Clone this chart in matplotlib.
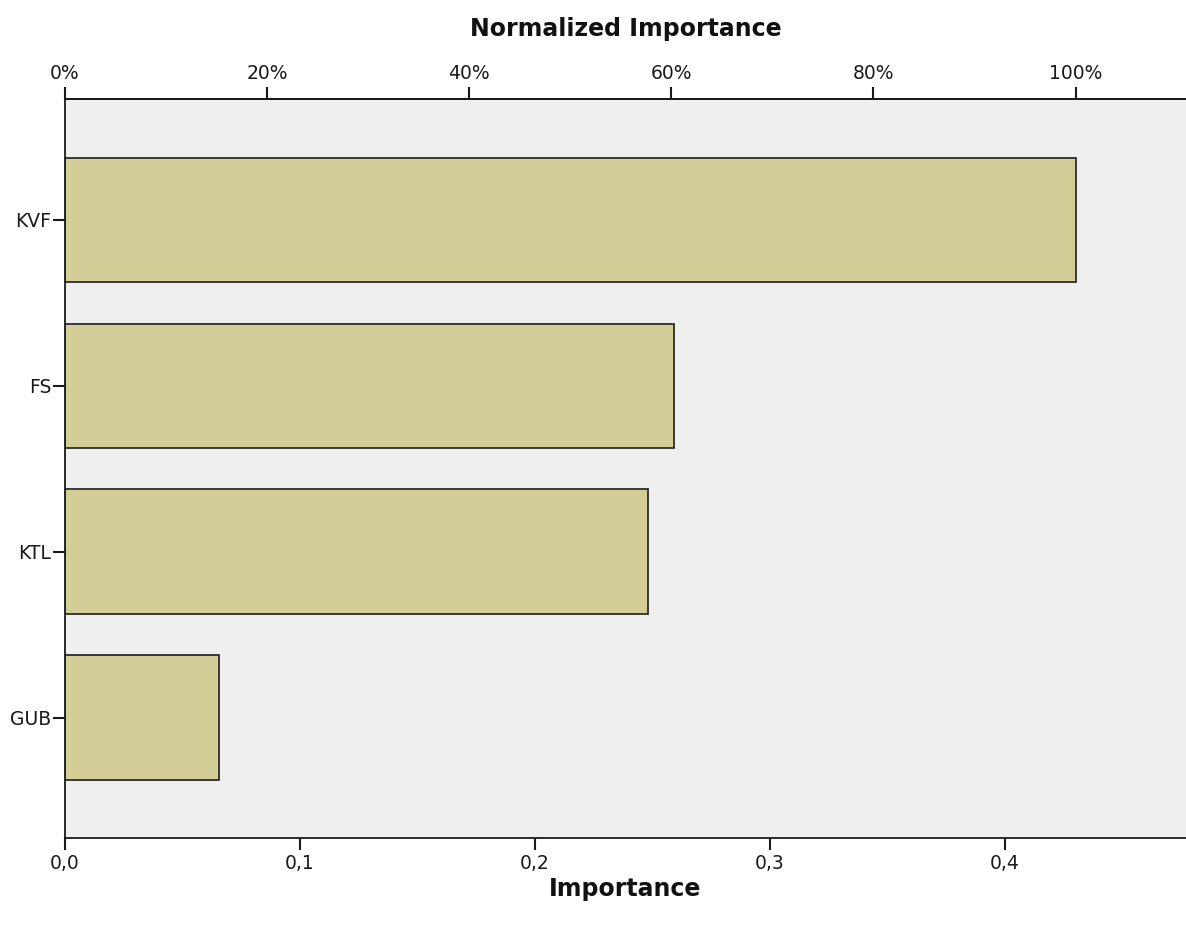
import matplotlib
matplotlib.use("Agg")
import matplotlib.pyplot as plt
from matplotlib.ticker import FuncFormatter

plt.rcParams['font.family'] = ['DejaVu Sans']

categories = ["KVF", "FS", "KTL", "GUB"]
importance = [0.430, 0.259, 0.248, 0.0655]
x_ticks = [0.0, 0.1, 0.2, 0.3, 0.4]
pct_ticks = [0, 20, 40, 60, 80, 100]

max_imp = max(importance)

fig = plt.figure(figsize=(11.86, 9.26), dpi=100)
ax = fig.add_axes([65/1186, 88/926, (1186-65)/1186, (838-99)/926])
ax.set_facecolor('#EFEFEF')

ypos = list(range(len(categories)))
ax.barh(ypos, importance, height=0.75, color='#D3CE98', edgecolor='#2B2B2B', linewidth=1.3)

ax.set_ylim(3.725, -0.728)
ax.set_xlim(0, 0.477)
ax.set_yticks(ypos)
ax.set_yticklabels(categories)
ax.set_xticks(x_ticks)
ax.xaxis.set_major_formatter(FuncFormatter(lambda v, p: f"{v:.1f}".replace('.', ',')))

ax.spines['right'].set_visible(False)
for s in ['left', 'bottom', 'top']:
    ax.spines[s].set_color('#1A1A1A')
    ax.spines[s].set_linewidth(1.3)

tick_col = '#1A1A1A'
ax.tick_params(axis='x', direction='out', length=8.5, width=1.5, color=tick_col, labelsize=13.5, pad=3, labelcolor=tick_col)
ax.tick_params(axis='y', direction='out', length=9, width=1.5, color=tick_col, labelsize=13.5, pad=1, labelcolor=tick_col)
ax.set_xlabel('Importance', fontsize=17, fontweight='bold', labelpad=3, color='#111111')

sec = ax.secondary_xaxis('top', functions=(lambda v: v / max_imp * 100, lambda p: p * max_imp / 100))
sec.set_xticks(pct_ticks)
sec.xaxis.set_major_formatter(FuncFormatter(lambda v, p: f"{v:.0f}%"))
sec.tick_params(axis='x', direction='out', length=8.5, width=1.5, color=tick_col, labelsize=13.5, pad=3, labelcolor=tick_col)
sec.spines['top'].set_color('#1A1A1A')
sec.spines['top'].set_linewidth(1.3)
sec.set_xlabel('Normalized Importance', fontsize=17, fontweight='bold', labelpad=20, color='#111111')

fig.savefig('out.png', dpi=100)
